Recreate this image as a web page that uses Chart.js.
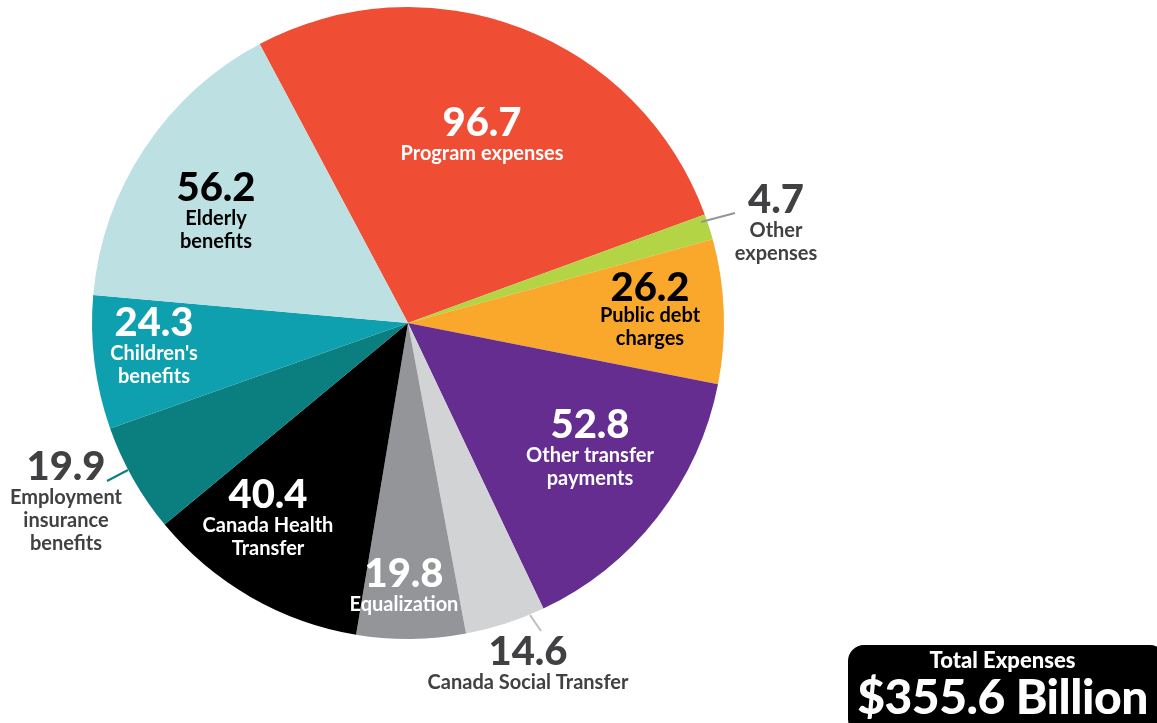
<!DOCTYPE html>
<html>
<head>
<meta charset="utf-8">
<script src="https://cdn.jsdelivr.net/npm/chart.js@4.4.1/dist/chart.umd.min.js"></script>
<style>
  html, body { margin: 0; padding: 0; background: #fff; }
  #wrap { position: relative; width: 1157px; height: 723px; overflow: hidden; }
  #total {
    position: absolute; left: 848px; top: 645px; width: 318px; height: 90px;
    background: #000; border-radius: 16px; color: #fff; text-align: center;
    font-family: Lato, sans-serif; font-weight: 900;
  }
  #total .t1 { font-size: 22px; line-height: 22px; margin-top: 4px; margin-right: 9px; }
  #total .t2 { font-size: 48px; line-height: 50px; margin-right: 9px; letter-spacing: -0.5px; }
</style>
</head>
<body>
<div id="wrap">
  <canvas id="pie" width="1157" height="723"></canvas>
  <div id="total"><div class="t1">Total Expenses</div><div class="t2">$355.6 Billion</div></div>
</div>
<script>
const categories = [
  ["Program expenses"],
  ["Other", "expenses"],
  ["Public debt", "charges"],
  ["Other transfer", "payments"],
  ["Canada Social Transfer"],
  ["Equalization"],
  ["Canada Health", "Transfer"],
  ["Employment", "insurance", "benefits"],
  ["Children's", "benefits"],
  ["Elderly", "benefits"],
];
const values = [96.7, 4.7, 26.2, 52.8, 14.6, 19.8, 40.4, 19.9, 24.3, 56.2];
const sliceColors = [
  "#EF4E35", "#B3D445", "#F9A82B", "#652D90", "#D1D3D4",
  "#939598", "#000000", "#0B7F80", "#0EA0AE", "#BDE0E3",
];

// label block placement relative to the pie centre (px): number centre
const labelSpots = [
  { dx: 74, dy: -200, color: "#fff" },
  { dx: 368, dy: -123, color: "#414042" },
  { dx: 242, dy: -35, color: "#000", gap: 28 },
  { dx: 182, dy: 102, color: "#fff" },
  { dx: 120, dy: 329, color: "#414042" },
  { dx: -4, dy: 251, color: "#fff" },
  { dx: -140, dy: 172, color: "#fff" },
  { dx: -342, dy: 144, color: "#414042" },
  { dx: -254, dy: 0, color: "#fff" },
  { dx: -192, dy: -135, color: "#000" },
];

// leader lines, from slice to label (px relative to centre)
const leaders = [
  { from: [293, -101], to: [327, -110], color: "#939598" },
  { from: [122, 292], to: [133, 308], color: "#BCBEC0" },
  { from: [-280, 147], to: [-301, 158], color: "#0B7F80" },
];

const labelPlugin = {
  id: "sliceLabels",
  afterDatasetsDraw(chart) {
    const ctx = chart.ctx;
    const arcs = chart.getDatasetMeta(0).data;
    const cx = arcs[0].x, cy = arcs[0].y;
    ctx.save();
    leaders.forEach((l) => {
      ctx.strokeStyle = l.color;
      ctx.lineWidth = 2;
      ctx.beginPath();
      ctx.moveTo(cx + l.from[0], cy + l.from[1]);
      ctx.lineTo(cx + l.to[0], cy + l.to[1]);
      ctx.stroke();
    });
    ctx.textAlign = "center";
    ctx.textBaseline = "middle";
    values.forEach((v, i) => {
      const s = labelSpots[i];
      const x = cx + s.dx, y = cy + s.dy;
      ctx.fillStyle = s.color;
      ctx.font = "900 40px Lato";
      ctx.fillText(v.toFixed(1), x, y);
      ctx.font = "bold 20px Lato";
      categories[i].forEach((line, k) => {
        ctx.fillText(line, x, y + (s.gap || 31) + k * 23);
      });
    });
    ctx.restore();
  },
};

new Chart(document.getElementById("pie"), {
  type: "pie",
  data: {
    labels: categories.map((c) => c.join(" ")),
    datasets: [{
      data: values,
      backgroundColor: sliceColors,
      borderWidth: 0,
    }],
  },
  options: {
    responsive: false,
    animation: false,
    rotation: -28,
    layout: { padding: { left: 92, right: 433, top: 7, bottom: 84 } },
    plugins: { legend: { display: false }, tooltip: { enabled: false } },
  },
  plugins: [labelPlugin],
});
</script>
</body>
</html>
